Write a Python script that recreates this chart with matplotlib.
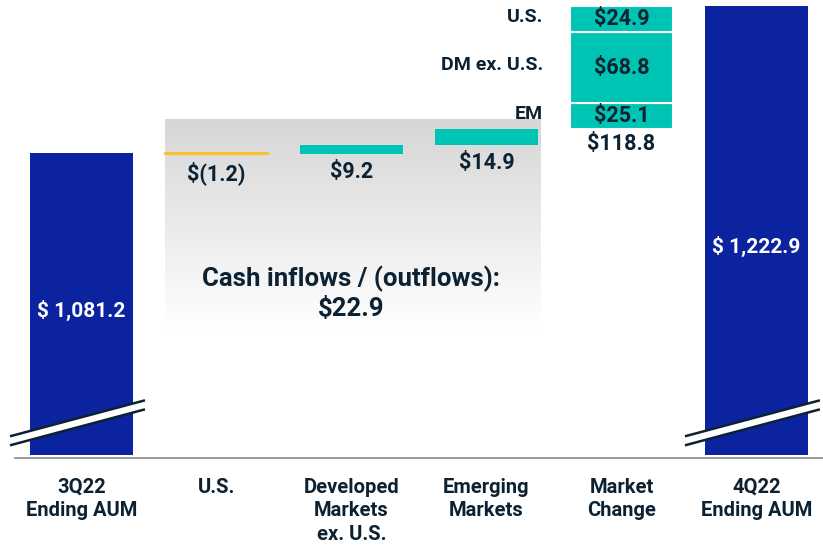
import numpy as np
import matplotlib.pyplot as plt
from matplotlib.patches import Polygon

plt.rcParams['font.family'] = ['Roboto', 'DejaVu Sans']
plt.rcParams['font.weight'] = 'bold'

# AUM walk, $ billions
categories = ["3Q22\nEnding AUM", "U.S.", "Developed\nMarkets\nex. U.S.",
              "Emerging\nMarkets", "Market\nChange", "4Q22\nEnding AUM"]
start_aum = 1081.2
end_aum = 1222.9
flow_values = [-1.2, 9.2, 14.9]           # U.S., DM ex. U.S., EM
flow_labels = ["$(1.2)", "$9.2", "$14.9"]
market_parts = ["EM", "DM ex. U.S.", "U.S."]   # stacked bottom to top
market_values = [25.1, 68.8, 24.9]
market_total = 118.8
cash_total = 22.9

BLUE = "#0b239f"
TEAL = "#00c4b3"
YELLOW = "#fdc02a"
INK = "#0c2233"

fig = plt.figure(figsize=(8.23, 5.48), dpi=100)
ax = fig.add_axes([0, 0, 1, 1])
ax.set_xlim(-0.604, 5.493)
ax.set_ylim(700.3, 1228.7)
ax.axis("off")

x = np.arange(len(categories))
width = 0.765
floor = 790.0

# shaded panel behind the cash-flow bars
grad = np.linspace(0.84, 1.0, 256).reshape(-1, 1)
ax.imshow(np.dstack([grad, grad, grad]), extent=(0.62, 3.40, 910.5, 1113.0),
          aspect="auto", origin="upper", zorder=0)
ax.text(2.0, 946, f"Cash inflows / (outflows):\n${cash_total}", ha="center",
        va="center", fontsize=18.5, color=INK, linespacing=1.3, zorder=3)

# starting and ending AUM
for xi, val in [(x[0], start_aum), (x[5], end_aum)]:
    ax.bar(xi, val - floor, bottom=floor, width=width, color=BLUE, zorder=2)
ax.text(x[0], 929.8, f"$ {start_aum:,.1f}", ha="center", va="center",
        color="white", fontsize=15, zorder=5)
ax.text(x[5], 991.5, f"$ {end_aum:,.1f}", ha="center", va="center",
        color="white", fontsize=15, zorder=5)

# cash flows
level = start_aum
for i, (val, lab) in enumerate(zip(flow_values, flow_labels)):
    xi = x[i + 1]
    color = YELLOW if val < 0 else TEAL
    ax.bar(xi, val, bottom=level, width=width, color=color,
           edgecolor=color, linewidth=1.5 if val < 0 else 0, zorder=2)
    low = min(level, level + val)
    ax.text(xi, low - 7, lab, ha="center", va="top", fontsize=15.5,
            color=INK, zorder=3)
    level += val

# market change, stacked by region
bottom = level
for name, val in zip(market_parts, market_values):
    ax.bar(x[4], val, bottom=bottom, width=width, color=TEAL,
           edgecolor="white", linewidth=1.5, zorder=2)
    ax.text(x[4], bottom + val / 2, f"${val}", ha="center", va="center",
            fontsize=15.5, color=INK, zorder=3)
    ax.text(x[4] - 0.58, bottom + val / 2 + 2, name, ha="right",
            va="center", fontsize=14, color=INK, zorder=3)
    bottom += val
ax.text(x[4], level - 4, f"${market_total}", ha="center", va="top",
        fontsize=15.5, color=INK, zorder=3)

# baseline
ax.plot([-0.49, 5.493], [787.1, 787.1], color="#8a8a8a", lw=1.2,
        zorder=1, clip_on=False)

# axis-break marks across the AUM bars
for xi in (x[0], x[5]):
    x0, x1 = xi - 0.53, xi + 0.47
    upper = [(x0, 808.0), (x1, 842.7)]
    lower = [(x0, 799.3), (x1, 834.0)]
    ax.add_patch(Polygon(upper + lower[::-1], closed=True, facecolor="white",
                         edgecolor="none", zorder=4))
    for seg in (upper, lower):
        ax.plot(*zip(*seg), color=INK, lw=1.8, zorder=4,
                solid_capstyle="butt")

# category labels
for xi, lab in zip(x, categories):
    ax.text(xi, 768, lab, ha="center", va="top", fontsize=14.5,
            color=INK, linespacing=1.3)

fig.savefig("out.png", dpi=100)
